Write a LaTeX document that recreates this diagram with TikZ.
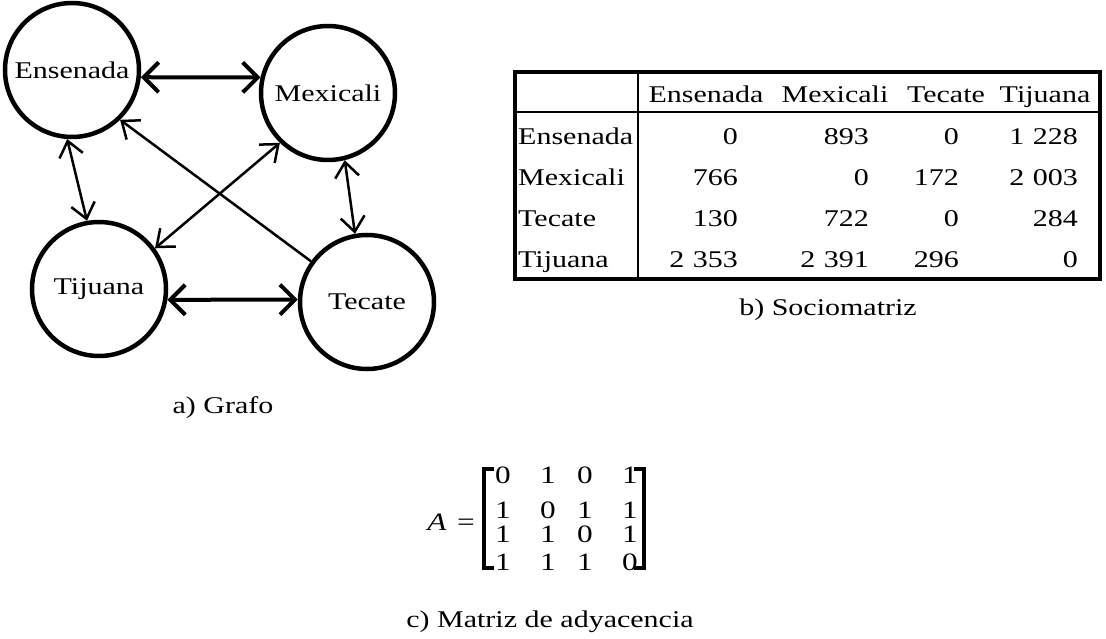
\documentclass[tikz,border=0pt]{standalone}
\usepackage{fontspec}
\setmainfont[FakeStretch=1.25]{Liberation Serif}
\usetikzlibrary{arrows.meta}
\newcommand{\grp}{\hspace{0.35em}}
\begin{document}
\begin{tikzpicture}[x=1pt,y=-1pt,
  txt/.style={font=\fontsize{24}{28}\selectfont,inner sep=0pt},
  city/.style={circle,draw,line width=4.5pt,minimum size=134pt,inner sep=0pt,font=\fontsize{24}{28}\selectfont},
  thickarr/.style={line width=4pt,{Straight Barb[length=15pt,width=30pt]}-{Straight Barb[length=15pt,width=30pt]}},
  thinarr/.style={line width=2.5pt,{Straight Barb[length=15pt,width=24pt]}-{Straight Barb[length=15pt,width=24pt]}},
  onearr/.style={line width=2.5pt,-{Straight Barb[length=15pt,width=24pt]}},
  mtx/.style={font=\fontsize{25}{29}\selectfont,inner sep=0pt,anchor=base},
  brk/.style={line width=4pt}
]
\path[fill=white,use as bounding box] (0,0) rectangle (1106,639);

% graph
\node[city] (ens) at (72,70) {Ensenada};
\node[city] (mex) at (328,93) {Mexicali};
\node[city] (tij) at (99,289) {Tijuana};
\node[city] (tec) at (367,302) {Tecate};
\draw[thickarr] (ens.-6) -- (mex.167);
\draw[thickarr] (tij.-9) -- (tec.178);
\draw[thinarr] (ens.-94) -- (tij.100);
\draw[thinarr] (mex.-76) -- (tec.100);
\draw[thinarr] (mex.-134) -- (tij.36);
\draw[onearr] (tec.144) -- (ens.-46);
\node[txt] (capa) at (223,408) {a) Grafo};

% sociomatrix
\draw[line width=4.5pt] (515,72) rectangle (1100,279);
\draw[line width=2pt] (515,112) -- (1100,112);
\draw[line width=2pt] (638,72) -- (638,279);
\node[txt,anchor=base] (h1) at (706,103) {Ensenada};
\node[txt,anchor=base] (h2) at (835,103) {Mexicali};
\node[txt,anchor=base] (h3) at (946,103) {Tecate};
\node[txt,anchor=base] (h4) at (1045,103) {Tijuana};
\node[txt,anchor=base west] (r1) at (518,145) {Ensenada};
\node[txt,anchor=base west] (r2) at (518,186) {Mexicali};
\node[txt,anchor=base west] (r3) at (518,227) {Tecate};
\node[txt,anchor=base west] (r4) at (518,268) {Tijuana};
\node[txt,anchor=base east] (c11) at (738,145) {0};
\node[txt,anchor=base east] (c12) at (869,145) {893};
\node[txt,anchor=base east] (c13) at (959,145) {0};
\node[txt,anchor=base east] (c14) at (1078,145) {1\grp228};
\node[txt,anchor=base east] (c21) at (738,186) {766};
\node[txt,anchor=base east] (c22) at (869,186) {0};
\node[txt,anchor=base east] (c23) at (959,186) {172};
\node[txt,anchor=base east] (c24) at (1078,186) {2\grp003};
\node[txt,anchor=base east] (c31) at (738,227) {130};
\node[txt,anchor=base east] (c32) at (869,227) {722};
\node[txt,anchor=base east] (c33) at (959,227) {0};
\node[txt,anchor=base east] (c34) at (1078,227) {284};
\node[txt,anchor=base east] (c41) at (738,268) {2\grp353};
\node[txt,anchor=base east] (c42) at (869,268) {2\grp391};
\node[txt,anchor=base east] (c43) at (959,268) {296};
\node[txt,anchor=base east] (c44) at (1078,268) {0};
\node[txt] (capb) at (828,310) {b) Sociomatriz};

% adjacency matrix
\node[mtx] (amat) at (437,530) {\itshape A};
\node[mtx] (aeq) at (466,530) {=};
\draw[brk] (494,469) -- (484,469) -- (484,568) -- (494,568);
\draw[brk] (634,469) -- (644,469) -- (644,568) -- (634,568);
\node[mtx] (m11) at (503,483) {0};
\node[mtx] (m12) at (548,483) {1};
\node[mtx] (m13) at (585,483) {0};
\node[mtx] (m14) at (630,483) {1};
\node[mtx] (m21) at (503,518) {1};
\node[mtx] (m22) at (548,518) {0};
\node[mtx] (m23) at (585,518) {1};
\node[mtx] (m24) at (630,518) {1};
\node[mtx] (m31) at (503,542) {1};
\node[mtx] (m32) at (548,542) {1};
\node[mtx] (m33) at (585,542) {0};
\node[mtx] (m34) at (630,542) {1};
\node[mtx] (m41) at (503,570) {1};
\node[mtx] (m42) at (548,570) {1};
\node[mtx] (m43) at (585,570) {1};
\node[mtx] (m44) at (630,570) {0};
\node[txt] (capc) at (550,622) {c) Matriz de adyacencia};
\end{tikzpicture}
\end{document}
